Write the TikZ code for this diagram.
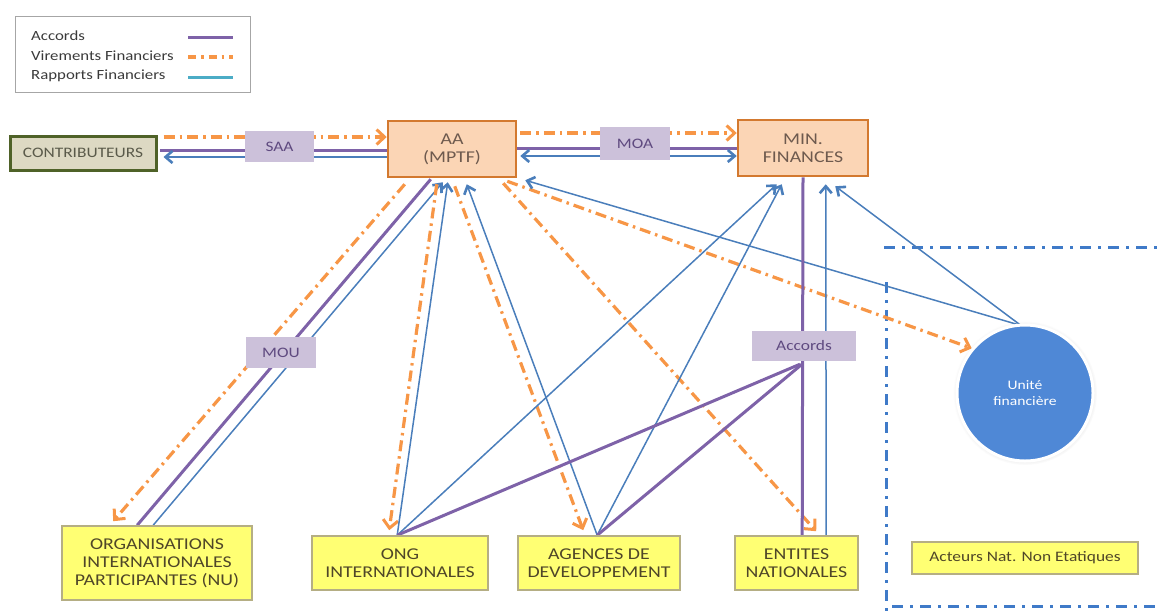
\documentclass[tikz,border=0pt]{standalone}
\usepackage{fontspec}
\setmainfont{Carlito}[FakeStretch=1.2]
\usetikzlibrary{arrows.meta,calc,shadows}

\definecolor{accpurple}{HTML}{7E62A8}
\definecolor{virorange}{HTML}{F79646}
\definecolor{rapblue}{HTML}{4A7EBB}
\definecolor{legblue}{HTML}{4BACC6}
\definecolor{peach}{HTML}{FBD5B5}
\definecolor{peachline}{HTML}{D3792F}
\definecolor{peachtext}{HTML}{6E5A4E}
\definecolor{khaki}{HTML}{DDD9C3}
\definecolor{olivedark}{HTML}{4F6228}
\definecolor{khakitext}{HTML}{5A5A4A}
\definecolor{lav}{HTML}{CCC1DA}
\definecolor{lavtext}{HTML}{5F4A80}
\definecolor{ybox}{HTML}{FFFF73}
\definecolor{yline}{HTML}{B5AE84}
\definecolor{ytext}{HTML}{4F4628}
\definecolor{ufblue}{HTML}{4F88D6}
\definecolor{zoneblue}{HTML}{3F7AC8}
\definecolor{legtext}{HTML}{3A3A3A}

\pgfdeclarelayer{background}
\pgfsetlayers{background,main}

\tikzset{
  boxfont/.style={font=\fontsize{16.5}{18}\selectfont},
  actor/.style={draw=yline, line width=1.6pt, fill=ybox, text=ytext, align=center, inner sep=0pt, boxfont},
  hub/.style={draw=peachline, line width=2.5pt, fill=peach, text=peachtext, align=center, inner sep=0pt, boxfont},
  funder/.style={draw=olivedark, line width=3pt, fill=khaki, text=khakitext, inner sep=0pt, font=\fontsize{14.5}{16}\selectfont},
  tag/.style={fill=lav, text=lavtext, inner sep=0pt, font=\fontsize{14.5}{16}\selectfont},
  unit/.style={circle, fill=ufblue, draw=white, line width=3pt, text=white, align=center, minimum size=136pt,
    circular drop shadow={shadow scale=1.06, shadow xshift=0pt, shadow yshift=0pt, opacity=0.3},
    font=\fontsize{13}{15.5}\selectfont},
  legendtext/.style={anchor=west, text=legtext, inner sep=0pt, font=\fontsize{14}{16}\selectfont},
  accline/.style={draw=accpurple, line width=3pt},
  virline/.style={draw=virorange, line width=3.2pt, dash pattern=on 11pt off 5pt on 2.5pt off 5pt},
  rapline/.style={draw=rapblue, line width=1.5pt},
  vtip/.style={-{Straight Barb[length=8pt,width=15pt,line width=3pt]}},
  btip/.style={-{Straight Barb[length=7pt,width=12pt,line width=2.6pt]}},
  bbothtip/.style={{Straight Barb[length=7pt,width=12pt,line width=2.6pt]}-{Straight Barb[length=7pt,width=12pt,line width=2.6pt]}},
  zone/.style={draw=zoneblue, line width=3pt, dash pattern=on 11pt off 7pt on 3pt off 7pt}
}

\begin{document}
\begin{tikzpicture}[x=1pt,y=-1pt]
\useasboundingbox (0,0) rectangle (1161,614);

% legend
\draw[draw=gray!70, line width=1pt] (15,16) rectangle (250,92);
\node[legendtext] (lacc) at (31,36) {Accords};
\node[legendtext] (lvir) at (31,56) {Virements Financiers};
\node[legendtext] (lrap) at (31,76) {Rapports Financiers};
\draw[accline] (188,37) -- (233,37);
\draw[virline, dash pattern=on 8pt off 5pt on 2.5pt off 5pt] (188,57) -- (233,57);
\draw[draw=legblue, line width=3pt] (188,77) -- (233,77);

% main actors
\node[funder, minimum width=146pt, minimum height=34pt] (contrib) at (83,153) {CONTRIBUTEURS};
\node[hub, minimum width=128pt, minimum height=56pt] (aa) at (452,149) {AA\\(MPTF)};
\node[hub, minimum width=130pt, minimum height=56pt] (min) at (803,148) {MIN.\\FINANCES};
\node[actor, minimum width=190pt, minimum height=74pt] (org) at (157,563) {ORGANISATIONS\\INTERNATIONALES\\PARTICIPANTES (NU)};
\node[actor, minimum width=176pt, minimum height=54pt] (ong) at (400,563) {ONG\\INTERNATIONALES};
\node[actor, minimum width=162pt, minimum height=54pt] (age) at (599,563) {AGENCES DE\\DEVELOPPEMENT};
\node[actor, minimum width=123pt, minimum height=54pt] (ent) at (796.5,563) {ENTITES\\NATIONALES};
\node[actor, minimum width=226pt, minimum height=32pt, font=\fontsize{14.5}{16}\selectfont] (act) at (1025,558) {Acteurs Nat. Non Etatiques};
\node[unit] (uf) at (1025,393) {Unité\\financière};

% agreement tags
\node[tag, minimum width=69pt, minimum height=31pt] (saa) at (279.5,146.5) {SAA};
\node[tag, minimum width=70pt, minimum height=33pt] (moa) at (635,143.5) {MOA};
\node[tag, minimum width=70pt, minimum height=31pt] (mou) at (281,352.5) {MOU};
\node[tag, minimum width=104pt, minimum height=30pt] (acc) at (804,346) {Accords};

\begin{pgfonlayer}{background}
% national zone
\draw[zone] (884,247) -- (1161,247);
\draw[zone] (886,282) -- (886,612);
\draw[zone] (892,606) -- (1161,606);

% contributors <-> AA
\draw[virline, vtip] ($(contrib.east)+(6,-16)$) -- ($(aa.west)+(0,-12)$);
\draw[accline] ($(contrib.east)+(2,-3)$) -- ($(aa.west)+(0,1)$);
\draw[rapline, line width=2pt, btip] ($(aa.west)+(0,8)$) -- ($(contrib.east)+(6,4)$);

% AA <-> ministry
\draw[virline, vtip] ($(aa.east)+(3,-16)$) -- ($(min.west)+(0,-15)$);
\draw[accline] ($(aa.east)+(0,-1)$) -- (min.west);
\draw[rapline, line width=2pt, bbothtip] ($(aa.east)+(3,7)$) -- ($(min.west)+(0,8)$);

% AA -> participating organisations
\draw[virline, vtip] ($(aa.south west)+(18,6)$) -- ($(org.north west)+(52,-4)$);
\draw[accline] ($(aa.south west)+(44,1)$) -- ($(org.north west)+(76,0)$);
\draw[rapline, btip] ($(org.north west)+(92,0)$) -- ($(aa.south west)+(56,4)$);

% AA -> NGOs and agencies
\draw[virline, vtip] ($(aa.south west)+(50,6)$) -- ($(ong.north west)+(78,-5)$);
\draw[rapline, btip] ($(ong.north west)+(86,0)$) -- ($(aa.south west)+(61,4)$);
\draw[virline, vtip] ($(aa.south west)+(68,8)$) -- ($(age.north west)+(66,-5)$);
\draw[rapline, btip] ($(age.north west)+(80,0)$) -- ($(aa.south west)+(80,6)$);

% AA -> national entities and financial unit
\draw[virline, vtip] ($(aa.south east)+(-14,5)$) -- ($(ent.north west)+(82,-4)$);
\draw[virline, vtip] ($(aa.south east)+(-10,3)$) -- (uf.140);
\draw[rapline, btip] ($(uf.north)+(-4,2)$) -- ($(aa.south east)+(8,2)$);
\draw[rapline, btip] ($(uf.north)+(-4,2)$) -- ($(min.south east)+(-34,9)$);

% ministry <-> national entities
\draw[accline] (min.south) -- ($(ent.north west)+(68,0)$);
\draw[rapline, btip] ($(ent.north west)+(92,0)$) -- ($(min.south west)+(89,7)$);

% NGOs and agencies -> ministry
\draw[rapline, btip] ($(ong.north west)+(86,0)$) -- ($(min.south west)+(40,7)$);
\draw[rapline, btip] ($(age.north west)+(80,0)$) -- ($(min.south west)+(45,7)$);
\draw[accline] ($(ong.north west)+(86,0)$) -- ($(acc.south)+(-4,3)$);
\draw[accline] ($(age.north west)+(80,0)$) -- ($(acc.south)+(-2,3)$);
\end{pgfonlayer}
\end{tikzpicture}
\end{document}
